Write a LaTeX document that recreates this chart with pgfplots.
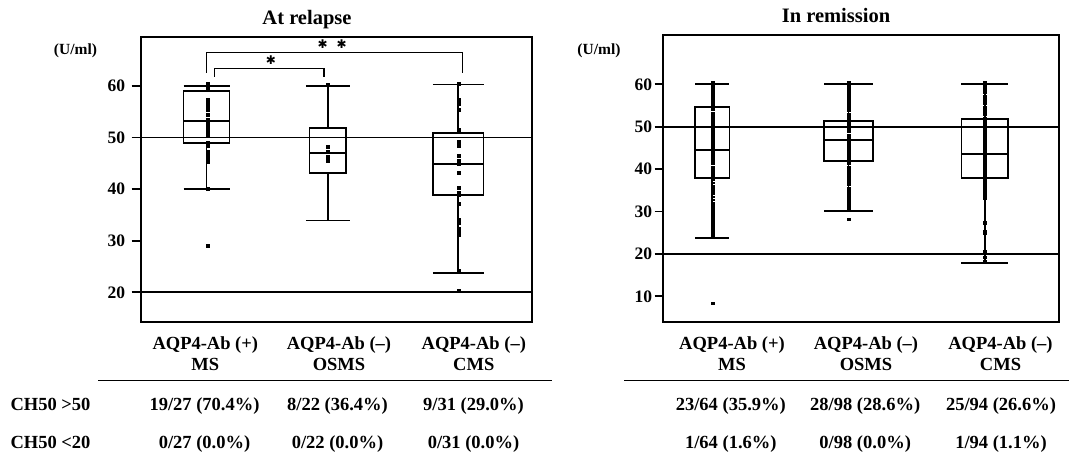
\documentclass[border=0pt]{standalone}
\usepackage{pgfplots}
\pgfplotsset{compat=1.18}
\usepgfplotslibrary{statistics}
\usepackage{fontspec}
\setmainfont{Liberation Serif}
\newfontfamily\djv{DejaVu Sans}
\newcommand\tf{\fontsize{18.5}{22}\selectfont\bfseries}
\begin{document}
\begin{tikzpicture}
\path[use as bounding box] (0pt,0pt) rectangle (1069pt,-459pt);
\pgfplotsset{
  common/.style={
    scale only axis, anchor=south west,
    xtick=\empty, tick pos=left, tick align=outside, major tick length=9pt,
    axis line style={line width=1.9pt}, tick style={line width=1.7pt, black},
    /pgf/number format/assume math mode=true,
    yticklabel style={font=\fontsize{17.5}{18}\selectfont\bfseries},
    clip=false, boxplot/draw direction=y,
  },
  bx/.style={black, line width=1.7pt, mark=none, solid},
  rl/.style={black, line width=1.8pt, mark=none},
  dl/.style={only marks, mark=square*, mark size=1.45pt, black},
  ds/.style={only marks, mark=square*, mark size=0.85pt, mark options={xscale=1.7}, black},
}
% ---------------- Left: At relapse ----------------
\begin{axis}[common,
  at={(140.7pt,-322.3pt)}, width=391.6pt, height=285.6pt,
  xmin=0, xmax=3.916, ymin=14.18, ymax=69.56,
  ytick={20,30,40,50,60},
  yticklabel style={xshift=-3pt},
]
\addplot[rl] coordinates {(0,50) (3.916,50)};
\addplot[rl] coordinates {(0,20) (3.916,20)};
\addplot[bx, boxplot prepared={draw position=0.658, lower whisker=40, lower quartile=48.9, median=53.2, upper quartile=59.03, upper whisker=60, box extend=0.46, whisker extend=0.46}] coordinates {};
\addplot[bx, boxplot prepared={draw position=1.871, lower whisker=33.9, lower quartile=43.07, median=47.07, upper quartile=51.8, upper whisker=60, box extend=0.365, whisker extend=0.44}] coordinates {};
\addplot[bx, boxplot prepared={draw position=3.175, lower whisker=23.8, lower quartile=38.8, median=44.9, upper quartile=50.85, upper whisker=60.3, box extend=0.506, whisker extend=0.506}] coordinates {};
\addplot[dl] coordinates {(0.67,60.52) (0.67,60) (0.67,59.55) (0.67,59.22) (0.67,57.42) (0.67,56.96) (0.67,56.25) (0.67,55.35) (0.67,54.38) (0.67,53.53) (0.67,52.63) (0.67,51.92) (0.67,51.27) (0.67,50.5) (0.67,49.0) (0.67,48.37) (0.67,47.26) (0.67,46.62) (0.67,45.98) (0.67,45.32) (0.67,40.16) (0.67,29.1)};
\addplot[dl] coordinates {(1.87,60.3) (1.87,48.2) (1.87,47.3) (1.87,46.3) (1.87,45.5)};
\addplot[dl] coordinates {(3.18,60.5) (3.18,57.42) (3.18,56.64) (3.18,55.35) (3.18,51.47) (3.18,49.2) (3.18,48.43) (3.18,46.43) (3.18,45.46) (3.18,45.0) (3.18,43.2) (3.18,40.2) (3.18,39.39) (3.18,38.87) (3.18,37.12) (3.18,34.02) (3.18,33.5) (3.18,32.41) (3.18,31.76) (3.18,31.24) (3.18,24.13) (3.18,20.25)};
\draw[line width=1.5pt] (axis cs:0.66,62.58) -- (axis cs:0.66,66.46) -- (axis cs:3.22,66.46) -- (axis cs:3.22,62.58);
\draw[line width=1.5pt] (axis cs:0.74,61.80) -- (axis cs:0.74,63.43) -- (axis cs:1.833,63.43) -- (axis cs:1.833,61.80);
\node[font=\djv\fontsize{12}{12}\selectfont, inner sep=0pt] at (axis cs:1.82,68.14) {✱};
\node[font=\djv\fontsize{12}{12}\selectfont, inner sep=0pt] at (axis cs:2.01,68.14) {✱};
\node[font=\djv\fontsize{12}{12}\selectfont, inner sep=0pt] at (axis cs:1.303,65.04) {✱};
\end{axis}
% ---------------- Right: In remission ----------------
\begin{axis}[common,
  at={(662.7pt,-322pt)}, width=396.6pt, height=287pt,
  xmin=0, xmax=3.966, ymin=3.94, ymax=71.63,
  ytick={10,20,30,40,50,60},
  yticklabel style={xshift=1pt},
  major tick length=8pt,
]
\addplot[rl] coordinates {(0,50) (3.966,50)};
\addplot[rl] coordinates {(0,20) (3.966,20)};
\addplot[bx, boxplot prepared={draw position=0.495, lower whisker=23.75, lower quartile=37.83, median=44.58, upper quartile=54.72, upper whisker=60, box extend=0.343, whisker extend=0.343}] coordinates {};
\addplot[bx, boxplot prepared={draw position=1.858, lower whisker=30.05, lower quartile=41.98, median=46.86, upper quartile=51.42, upper whisker=60, box extend=0.484, whisker extend=0.484}] coordinates {};
\addplot[bx, boxplot prepared={draw position=3.22, lower whisker=17.78, lower quartile=37.83, median=43.49, upper quartile=51.75, upper whisker=60, box extend=0.467, whisker extend=0.467}] coordinates {};
\addplot[ds] coordinates {(0.5,60.6) (0.5,60.1) (0.5,59.5) (0.5,58.8) (0.5,58.1) (0.5,57.6) (0.5,57.0) (0.5,56.3) (0.5,55.8) (0.5,55.1) (0.5,54.6) (0.5,54.0) (0.5,53.3) (0.5,52.7) (0.5,52.1) (0.5,51.6) (0.5,51.0) (0.5,50.5) (0.5,50.0) (0.5,49.4) (0.5,48.9) (0.5,48.2) (0.5,47.7) (0.5,47.1) (0.5,46.5) (0.5,45.9) (0.5,45.4) (0.5,44.8) (0.5,44.2) (0.5,43.6) (0.5,43.0) (0.5,42.5) (0.5,41.9) (0.5,41.3) (0.5,40.6) (0.5,40.0) (0.5,39.4) (0.5,38.8) (0.5,38.1) (0.5,37.5) (0.5,36.8) (0.5,36.1) (0.5,35.5) (0.5,34.8) (0.5,34.2) (0.5,33.5) (0.5,32.8) (0.5,32.1) (0.5,31.5) (0.5,30.8) (0.5,30.1) (0.5,29.4) (0.5,28.7) (0.5,28.0) (0.5,27.3) (0.5,26.6) (0.5,25.9) (0.5,25.2) (0.5,24.6) (0.5,24.1) (0.5,8.35)};
\addplot[ds] coordinates {(1.858,60.6) (1.858,60.0) (1.858,59.4) (1.858,58.8) (1.858,58.2) (1.858,57.5) (1.858,56.9) (1.858,56.3) (1.858,55.6) (1.858,55.0) (1.858,54.4) (1.858,53.8) (1.858,53.1) (1.858,52.5) (1.858,51.9) (1.858,51.3) (1.858,50.6) (1.858,50.0) (1.858,49.4) (1.858,48.8) (1.858,48.1) (1.858,47.5) (1.858,46.9) (1.858,46.3) (1.858,45.6) (1.858,45.0) (1.858,44.4) (1.858,43.8) (1.858,43.1) (1.858,42.5) (1.858,41.9) (1.858,41.3) (1.858,40.6) (1.858,40.0) (1.858,39.4) (1.858,38.8) (1.858,38.1) (1.858,37.5) (1.858,36.9) (1.858,36.3) (1.858,35.6) (1.858,35.0) (1.858,34.4) (1.858,33.8) (1.858,33.1) (1.858,32.5) (1.858,31.9) (1.858,31.3) (1.858,30.6) (1.858,30.2) (1.858,28.16)};
\addplot[ds] coordinates {(3.216,60.6) (3.216,60.0) (3.216,59.3) (3.216,58.6) (3.216,58.0) (3.216,57.3) (3.216,56.7) (3.216,56.0) (3.216,55.4) (3.216,54.7) (3.216,54.1) (3.216,53.4) (3.216,52.8) (3.216,52.1) (3.216,51.5) (3.216,50.8) (3.216,50.2) (3.216,49.5) (3.216,48.9) (3.216,48.2) (3.216,47.6) (3.216,46.9) (3.216,46.3) (3.216,45.6) (3.216,45.0) (3.216,44.3) (3.216,43.7) (3.216,43.0) (3.216,42.4) (3.216,41.7) (3.216,41.1) (3.216,40.4) (3.216,39.8) (3.216,39.1) (3.216,38.5) (3.216,37.8) (3.216,37.2) (3.216,36.5) (3.216,35.9) (3.216,35.2) (3.216,34.6) (3.216,33.9) (3.216,33.2) (3.216,27.6) (3.216,27.2) (3.216,25.4) (3.216,24.9) (3.216,20.6) (3.216,19.2) (3.216,18.3)};
\end{axis}
% ---------------- Titles and units ----------------
\node[anchor=base, font=\fontsize{20.5}{22}\selectfont\bfseries] at (307pt,-24pt) {At relapse};
\node[anchor=base, font=\fontsize{20.5}{22}\selectfont\bfseries] at (836pt,-22pt) {In remission};
\node[font=\fontsize{15.5}{16}\selectfont\bfseries] at (75.5pt,-50.5pt) {(U/ml)};
\node[font=\fontsize{15.5}{16}\selectfont\bfseries] at (599pt,-50.3pt) {(U/ml)};
% ---------------- Table ----------------
\draw[line width=1.8pt] (98pt,-380.5pt) -- (551.8pt,-380.5pt);
\draw[line width=1.8pt] (624.3pt,-380.5pt) -- (1069pt,-380.5pt);
\foreach \x/\a/\b in {205.3/AQP4-Ab (+)/MS, 339/AQP4-Ab (–)/OSMS, 473.8/AQP4-Ab (–)/CMS, 732/AQP4-Ab (+)/MS, 866/AQP4-Ab (–)/OSMS, 1000.5/AQP4-Ab (–)/CMS}{
  \node[anchor=base, font=\tf, inner sep=0pt] at (\x pt,-349pt) {\a};
  \node[anchor=base, font=\tf, inner sep=0pt] at (\x pt,-370.5pt) {\b};
}
\node[anchor=base west, font=\tf, inner sep=0pt] at (10.3pt,-410pt) {CH50 >50};
\node[anchor=base west, font=\tf, inner sep=0pt] at (10.3pt,-448pt) {CH50 <20};
\foreach \x/\a/\b in {204.5/19\slash27 (70.4\%)/0\slash27 (0.0\%), 337.5/8\slash22 (36.4\%)/0\slash22 (0.0\%), 473.5/9\slash31 (29.0\%)/0\slash31 (0.0\%), 730.8/23\slash64 (35.9\%)/1\slash64 (1.6\%), 865.2/28\slash98 (28.6\%)/0\slash98 (0.0\%), 1001/25\slash94 (26.6\%)/1\slash94 (1.1\%)}{
  \node[anchor=base, font=\tf, inner sep=0pt] at (\x pt,-410pt) {\a};
  \node[anchor=base, font=\tf, inner sep=0pt] at (\x pt,-448pt) {\b};
}
\end{tikzpicture}
\end{document}
